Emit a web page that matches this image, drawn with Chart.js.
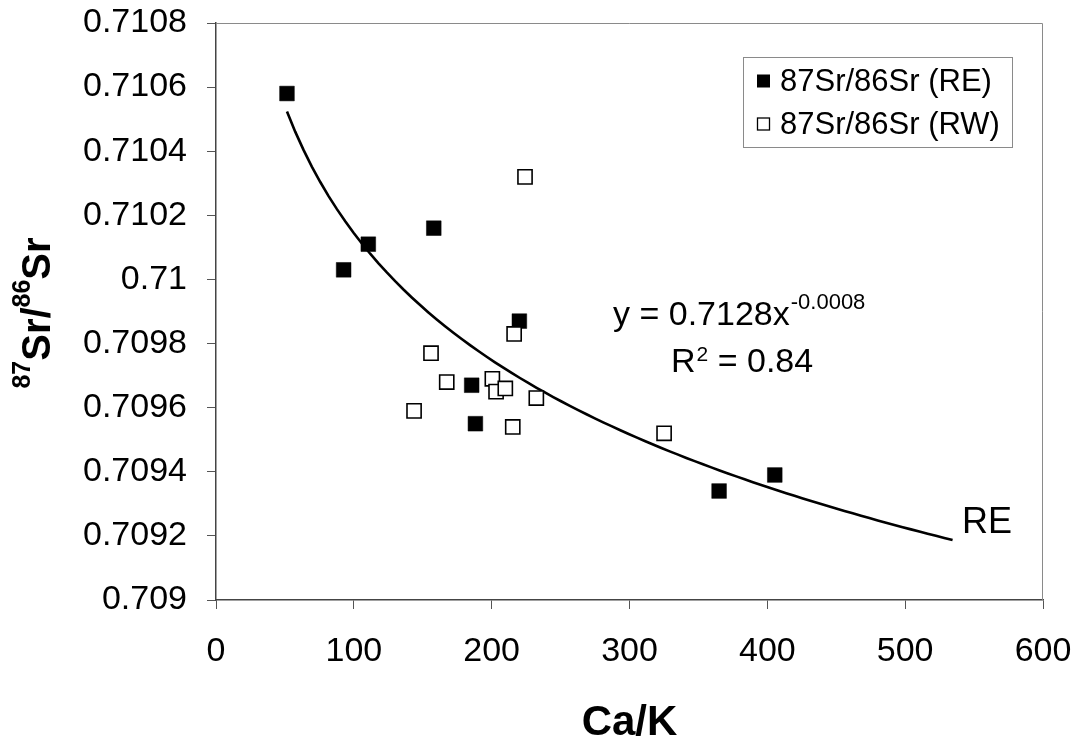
<!DOCTYPE html>
<html>
<head>
<meta charset="utf-8">
<script src="https://cdn.jsdelivr.net/npm/chart.js@4/dist/chart.umd.min.js"></script>
<style>
  html, body { margin: 0; padding: 0; background: #ffffff; }
  #c { display: block; }
</style>
</head>
<body>
<canvas id="c" width="1077" height="739"></canvas>
<script>
// ---- Data ----
const reLabel = '87Sr/86Sr (RE)';
const rwLabel = '87Sr/86Sr (RW)';
const reX = [51.5, 92.6, 110.5, 158.0, 185.5, 188.2, 220.1, 365.0, 405.4];
const reY = [0.71058, 0.71003, 0.71011, 0.71016, 0.70967, 0.70955, 0.70987, 0.70934, 0.70939];
const rwX = [224.2, 216.3, 156.0, 167.4, 200.5, 203.2, 209.9, 232.4, 143.7, 215.3, 325.1];
const rwY = [0.71032, 0.70983, 0.70977, 0.70968, 0.70969, 0.70965, 0.70966, 0.70963, 0.70959, 0.70954, 0.70952];
const xTicks = [0, 100, 200, 300, 400, 500, 600];
const yTicks = [0.709, 0.7092, 0.7094, 0.7096, 0.7098, 0.71, 0.7102, 0.7104, 0.7106, 0.7108];
const xTitle = 'Ca/K';
const eqMain = 'y = 0.7128x';
const eqExp = '-0.0008';
const r2Text = ['R', '2', ' = 0.84'];
const trendName = 'RE';
const trendForward = 129; // trendline extended forward (Excel "forecast")

// ---- Power trendline fitted to the RE series (as Excel does) ----
function powerFit(xs, ys) {
  const lx = xs.map(Math.log), ly = ys.map(Math.log);
  const n = xs.length;
  const mx = lx.reduce((a, b) => a + b, 0) / n;
  const my = ly.reduce((a, b) => a + b, 0) / n;
  let sxy = 0, sxx = 0;
  for (let i = 0; i < n; i++) { sxy += (lx[i] - mx) * (ly[i] - my); sxx += (lx[i] - mx) ** 2; }
  const b = sxy / sxx;
  const a = Math.exp(my - b * mx);
  return { a, b };
}
const fit = powerFit(reX, reY);
const tStart = Math.min(...reX), tEnd = Math.max(...reX) + trendForward;
const trend = [];
const nSeg = 80;
for (let i = 0; i <= nSeg; i++) {
  const x = tStart + (tEnd - tStart) * i / nSeg;
  trend.push({ x, y: fit.a * Math.pow(x, fit.b) });
}

const FONT = '"Liberation Sans", Arial, Helvetica, sans-serif';

const extras = {
  id: 'extras',
  afterDraw(chart) {
    const ctx = chart.ctx;
    const ca = chart.chartArea;
    ctx.save();
    // top & right frame of plot area
    ctx.strokeStyle = '#8a8a8a';
    ctx.lineWidth = 1;
    ctx.beginPath();
    ctx.moveTo(ca.left, ca.top + 0.5);
    ctx.lineTo(ca.right - 0.5, ca.top + 0.5);
    ctx.lineTo(ca.right - 0.5, ca.bottom);
    ctx.stroke();

    // legend box
    const lg = { x: 743, y: 57, w: 269, h: 90 };
    ctx.fillStyle = '#fff';
    ctx.fillRect(lg.x, lg.y, lg.w, lg.h);
    ctx.strokeStyle = '#8a8a8a';
    ctx.strokeRect(lg.x + 0.5, lg.y + 0.5, lg.w, lg.h);
    const ds = chart.data.datasets;
    const rows = [ds[1], ds[0]]; // RE then RW
    const rowY = [81, 124];
    ctx.font = '31px ' + FONT;
    ctx.textBaseline = 'middle';
    ctx.textAlign = 'left';
    rows.forEach((d, i) => {
      const cy = rowY[i];
      if (d.backgroundColor === '#000000') {
        ctx.fillStyle = '#000';
        ctx.fillRect(757, cy - 6.5, 13, 13);
      } else {
        ctx.fillStyle = '#fff';
        ctx.fillRect(757, cy - 6.5, 13, 13);
        ctx.strokeStyle = '#000';
        ctx.lineWidth = 1.3;
        ctx.strokeRect(757.5, cy - 6, 12, 12);
      }
      ctx.fillStyle = '#000';
      ctx.fillText(d.label, 780, cy + 1);
    });

    // equation
    ctx.textBaseline = 'alphabetic';
    ctx.fillStyle = '#000';
    ctx.font = '34px ' + FONT;
    ctx.fillText(eqMain, 613, 325);
    let w = ctx.measureText(eqMain).width;
    ctx.font = '22px ' + FONT;
    ctx.fillText(eqExp, 613 + w + 1, 309);
    // R^2
    ctx.font = '34px ' + FONT;
    ctx.fillText(r2Text[0], 671, 372);
    let rw = ctx.measureText(r2Text[0]).width;
    ctx.font = '21px ' + FONT;
    ctx.fillText(r2Text[1], 671 + rw + 1, 361);
    let sw = ctx.measureText(r2Text[1]).width;
    ctx.font = '34px ' + FONT;
    ctx.fillText(r2Text[2], 671 + rw + sw + 1, 372);

    // trendline label
    ctx.font = '36px ' + FONT;
    ctx.fillText(trendName, 962, 533);

    // x title
    ctx.font = 'bold 42px ' + FONT;
    ctx.textAlign = 'center';
    ctx.fillText(xTitle, (ca.left + ca.right) / 2, 735);

    // y title with superscripts: 87Sr/86Sr
    const parts = [
      { t: '87', sup: true }, { t: 'Sr/', sup: false },
      { t: '86', sup: true }, { t: 'Sr', sup: false }
    ];
    const fMain = 'bold 40px ' + FONT, fSup = 'bold 25px ' + FONT;
    let total = 0;
    parts.forEach(p => { ctx.font = p.sup ? fSup : fMain; p.w = ctx.measureText(p.t).width; total += p.w; });
    ctx.translate(50, 313);
    ctx.rotate(-Math.PI / 2);
    ctx.textAlign = 'left';
    let px = -total / 2;
    parts.forEach(p => {
      ctx.font = p.sup ? fSup : fMain;
      ctx.fillText(p.t, px, p.sup ? -20 : 0);
      px += p.w;
    });
    ctx.restore();
  }
};

const gridCommon = {
  display: true,
  drawOnChartArea: false,
  drawTicks: true,
  tickLength: 9,
  color: '#555',
  lineWidth: 1
};

new Chart(document.getElementById('c'), {
  type: 'scatter',
  data: {
    datasets: [
      {
        label: rwLabel,
        data: rwX.map((x, i) => ({ x, y: rwY[i] })),
        pointStyle: 'rect',
        pointRadius: 10,
        backgroundColor: '#ffffff',
        borderColor: '#000000',
        borderWidth: 1.6,
        order: 0
      },
      {
        label: reLabel,
        data: reX.map((x, i) => ({ x, y: reY[i] })),
        pointStyle: 'rect',
        pointRadius: 10.4,
        backgroundColor: '#000000',
        borderColor: '#000000',
        borderWidth: 0.5,
        order: 1
      },
      {
        label: 'trend',
        type: 'line',
        data: trend,
        borderColor: '#000000',
        borderWidth: 2.6,
        pointRadius: 0,
        fill: false,
        tension: 0,
        order: 2
      }
    ]
  },
  options: {
    responsive: false,
    animation: false,
    devicePixelRatio: 1,
    layout: { padding: { top: 23, right: 34, left: 0, bottom: 0 } },
    plugins: { legend: { display: false }, tooltip: { enabled: false } },
    scales: {
      x: {
        type: 'linear',
        min: 0, max: 600,
        afterBuildTicks: s => { s.ticks = xTicks.map(v => ({ value: v })); },
        afterFit: s => { s.height = 139; s.paddingLeft = 0; s.paddingRight = 0; },
        grid: gridCommon,
        border: { display: true, color: '#444', width: 1.5 },
        ticks: {
          color: '#000',
          font: { family: FONT, size: 34 },
          padding: 22,
          maxRotation: 0,
          autoSkip: false
        }
      },
      y: {
        type: 'linear',
        min: 0.709, max: 0.7108,
        afterBuildTicks: s => { s.ticks = yTicks.map(v => ({ value: v })); },
        afterFit: s => { s.width = 216; s.paddingTop = 0; s.paddingBottom = 0; },
        grid: gridCommon,
        border: { display: true, color: '#444', width: 1.5 },
        ticks: {
          color: '#000',
          font: { family: FONT, size: 34 },
          padding: 20,
          autoSkip: false,
          callback: v => String(Number(v.toFixed(4)))
        }
      }
    }
  },
  plugins: [extras]
});
</script>
</body>
</html>
